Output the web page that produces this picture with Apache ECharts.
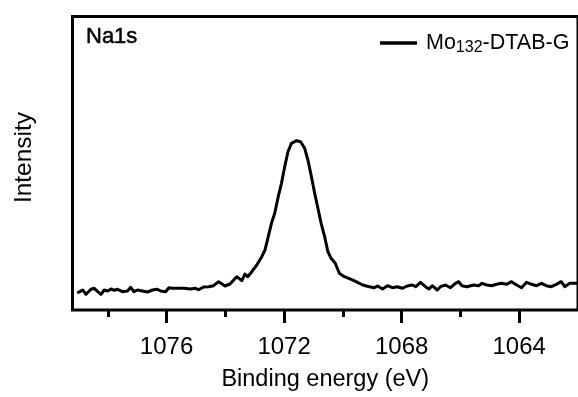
<!DOCTYPE html>
<html>
<head>
<meta charset="utf-8">
<script src="https://cdn.jsdelivr.net/npm/echarts@6/dist/echarts.min.js"></script>
<style>
  html, body { margin: 0; padding: 0; background: #fff; }
  #chart { width: 578px; height: 397px; }
</style>
</head>
<body>
<div id="chart"></div>
<script>
// Na 1s XPS spectrum: binding energy (eV) and intensity (a.u.)
const energy = [
  1079.00, 1078.85, 1078.74, 1078.57, 1078.46, 1078.34, 1078.23, 1078.12, 1078.00, 1077.89,
  1077.78, 1077.67, 1077.50, 1077.33, 1077.22, 1077.11, 1076.99, 1076.82, 1076.65, 1076.48,
  1076.31, 1076.20, 1076.03, 1075.92, 1075.81, 1075.64, 1075.42, 1075.19, 1075.02, 1074.91,
  1074.74, 1074.57, 1074.40, 1074.23, 1074.01, 1073.84, 1073.61, 1073.44, 1073.33, 1073.24,
  1073.10, 1072.93, 1072.76, 1072.65, 1072.54, 1072.43, 1072.32, 1072.20, 1072.09, 1071.98,
  1071.87, 1071.75, 1071.70, 1071.58, 1071.44, 1071.30, 1071.19, 1071.07, 1070.96, 1070.85,
  1070.74, 1070.62, 1070.51, 1070.40, 1070.26, 1070.12, 1069.95, 1069.72, 1069.55, 1069.33,
  1069.27, 1069.10, 1068.93, 1068.82, 1068.65, 1068.48, 1068.32, 1068.15, 1067.98, 1067.81,
  1067.64, 1067.52, 1067.36, 1067.19, 1067.07, 1066.96, 1066.79, 1066.68, 1066.51, 1066.34,
  1066.17, 1066.06, 1065.95, 1065.78, 1065.72, 1065.55, 1065.38, 1065.27, 1065.10, 1064.94,
  1064.77, 1064.60, 1064.43, 1064.26, 1064.09, 1063.92, 1063.75, 1063.58, 1063.41, 1063.24,
  1063.08, 1062.91, 1062.74, 1062.57, 1062.45, 1062.28, 1062.06, 1061.90
];
const intensity = [
  18.7, 21.0, 16.7, 21.7, 22.7, 19.3, 16.7, 21.0, 20.0, 22.0,
  20.7, 21.7, 19.3, 20.0, 23.7, 19.3, 21.0, 20.0, 19.0, 21.0,
  21.7, 20.0, 19.3, 23.3, 22.7, 22.7, 22.7, 22.0, 22.7, 21.3,
  24.0, 24.3, 25.3, 29.3, 25.0, 27.0, 34.3, 30.3, 37.0, 34.3,
  39.3, 46.0, 54.3, 61.0, 74.3, 87.7, 97.7, 114.3, 127.7, 144.3,
  159.0, 167.7, 168.3, 170.3, 169.3, 162.7, 151.0, 134.3, 117.7, 102.7,
  87.7, 74.3, 59.3, 52.7, 47.7, 37.7, 34.3, 31.7, 29.3, 26.0,
  25.3, 24.3, 23.3, 25.0, 22.0, 25.3, 23.3, 24.3, 22.7, 25.0,
  26.0, 24.3, 28.7, 24.3, 22.0, 25.3, 21.0, 24.3, 26.0, 23.3,
  27.7, 29.3, 25.3, 24.3, 25.0, 26.0, 25.3, 27.7, 26.0, 25.3,
  26.7, 27.7, 26.7, 29.3, 26.0, 23.3, 28.7, 26.7, 25.3, 27.7,
  25.3, 24.3, 26.7, 29.3, 24.3, 27.7, 27.7, 27.0
];
const majorTicks = [1076, 1072, 1068, 1064];
const minorTicks = [1078, 1074, 1070, 1066];
const seriesName = 'Mo132-DTAB-G';
const panelLabel = 'Na1s';

const FONT = '"Liberation Sans", Arial, Helvetica, sans-serif';
const spectrum = energy.map((e, i) => [e, intensity[i]]);

const chart = echarts.init(document.getElementById('chart'), null, { renderer: 'canvas' });

chart.setOption({
  animation: false,
  backgroundColor: '#fff',
  textStyle: { fontFamily: FONT, color: '#000' },
  grid: {
    left: 72.5, top: 16.5, width: 508.8, height: 293.5,
    show: true, borderColor: '#000', borderWidth: 3, backgroundColor: 'transparent'
  },
  title: {
    text: panelLabel,
    left: 81, top: 21,
    textStyle: { fontFamily: FONT, fontSize: 22, fontWeight: 'normal', color: '#000',
      textBorderColor: '#000', textBorderWidth: 0.5 }
  },
  legend: {
    left: 375, top: 27,
    icon: 'rect', itemWidth: 37, itemHeight: 3.5,
    itemStyle: { color: '#000' },
    formatter: () => '{a|Mo}{s|132}{a|-DTAB-G}',
    textStyle: {
      fontFamily: FONT, color: '#000', padding: [0, 0, 0, 4],
      rich: {
        a: { fontFamily: FONT, fontSize: 21.5, lineHeight: 26, color: '#000' },
        s: { fontFamily: FONT, fontSize: 16, lineHeight: 16, verticalAlign: 'bottom', color: '#000' }
      }
    }
  },
  graphic: [{
    type: 'text',
    x: 24, y: 157.5, rotation: Math.PI / 2,
    style: {
      text: 'Intensity', fontFamily: FONT, fontSize: 24.5, fill: '#000',
      align: 'center', verticalAlign: 'middle'
    }
  }],
  xAxis: [{
    type: 'value', inverse: true, min: 1062, max: 1079.2,
    name: 'Binding energy (eV)', nameLocation: 'middle', nameGap: 58,
    nameTextStyle: { fontFamily: FONT, fontSize: 23.5, color: '#000' },
    axisLine: { show: false },
    axisTick: { show: true, inside: false, length: 13, customValues: majorTicks,
      lineStyle: { color: '#000', width: 3 } },
    axisLabel: { show: true, margin: 25.5, customValues: majorTicks,
      formatter: (v) => String(v),
      fontFamily: FONT, fontSize: 24, color: '#000' },
    splitLine: { show: false }
  }, {
    type: 'value', inverse: true, min: 1062, max: 1079.2, position: 'bottom',
    axisLine: { show: false },
    axisTick: { show: true, inside: false, length: 7, customValues: minorTicks,
      lineStyle: { color: '#000', width: 3 } },
    axisLabel: { show: false },
    splitLine: { show: false }
  }],
  yAxis: {
    type: 'value', min: 1, max: 294.5,
    axisLine: { show: false }, axisTick: { show: false },
    axisLabel: { show: false }, splitLine: { show: false }
  },
  series: [{
    name: seriesName,
    type: 'line',
    data: spectrum,
    showSymbol: false,
    symbol: 'none',
    lineStyle: { color: '#000', width: 3, join: 'round', cap: 'round' },
    itemStyle: { color: '#000' }
  }]
});
</script>
</body>
</html>
